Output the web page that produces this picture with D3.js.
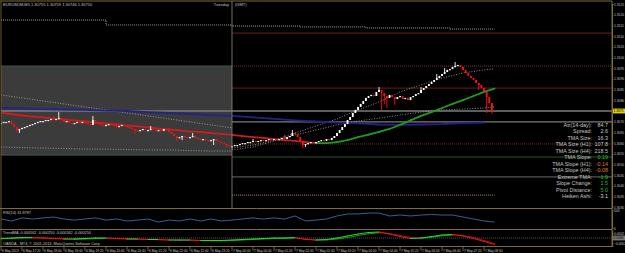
<!DOCTYPE html>
<html>
<head>
<meta charset="utf-8">
<script src="https://cdn.jsdelivr.net/npm/d3@7"></script>
<style>
body { margin: 0; background: #000; }
svg { display: block; font-family: "Liberation Sans", Arial, sans-serif; }
</style>
</head>
<body>
<svg id="chart" width="625" height="253"></svg>
<script>
"use strict";
//---- data (EURUSD M5, 6-7 May 2013) ----
var firstOpen = 1.30689;
var closes = [
	1.30694,1.30699,1.30699,1.30703,1.30689,1.30675,1.30661,1.30666,
	1.30671,1.30675,1.30680,1.30685,1.30689,1.30694,1.30699,1.30703,
	1.30703,1.30708,1.30708,1.30713,1.30708,1.30713,1.30717,1.30708,
	1.30699,1.30703,1.30694,1.30689,1.30694,1.30699,1.30694,1.30699,
	1.30694,1.30689,1.30685,1.30708,1.30699,1.30689,1.30685,1.30680,
	1.30685,1.30689,1.30685,1.30680,1.30675,1.30680,1.30685,1.30680,
	1.30675,1.30671,1.30666,1.30661,1.30657,1.30661,1.30666,1.30661,
	1.30661,1.30666,1.30661,1.30657,1.30661,1.30657,1.30666,1.30661,
	1.30652,1.30643,1.30633,1.30624,1.30628,1.30633,1.30628,1.30624,
	1.30628,1.30633,1.30624,1.30619,1.30614,1.30619,1.30614,1.30610,
	1.30614,1.30619,1.30610,1.30605,1.30600,1.30596,1.30591,1.30586,
	1.30586,1.30591,1.30591,1.30596,1.30600,1.30600,1.30605,1.30605,
	1.30610,1.30605,1.30610,1.30614,1.30610,1.30614,1.30619,1.30614,
	1.30619,1.30614,1.30619,1.30624,1.30619,1.30628,1.30633,1.30647,
	1.30643,1.30628,1.30610,1.30591,1.30596,1.30600,1.30605,1.30600,
	1.30605,1.30610,1.30614,1.30610,1.30619,1.30614,1.30624,1.30633,
	1.30647,1.30661,1.30675,1.30689,1.30708,1.30722,1.30741,1.30755,
	1.30769,1.30783,1.30797,1.30811,1.30820,1.30825,1.30820,1.30839,
	1.30848,1.30834,1.30820,1.30811,1.30825,1.30815,1.30806,1.30815,
	1.30820,1.30806,1.30811,1.30801,1.30815,1.30820,1.30829,1.30834,
	1.30848,1.30857,1.30867,1.30876,1.30886,1.30895,1.30904,1.30914,
	1.30923,1.30932,1.30942,1.30946,1.30956,1.30960,1.30965,1.30956,
	1.30942,1.30928,1.30914,1.30904,1.30895,1.30881,1.30872,1.30857,
	1.30839,1.30815,1.30787,1.30750];
//bars with a visible wick beyond the body
var wickHighBars = [22, 35, 44, 57, 73, 96, 108, 111, 144, 160, 166, 169, 173];
var wickHighs = [1.30745, 1.30727, 1.30689, 1.30680, 1.30647, 1.30619, 1.30638, 1.30661, 1.30862, 1.30862, 1.30923, 1.30951, 1.30979];
var wickLowBars = [6, 7, 51, 67, 69, 81, 86, 115, 116, 145, 146, 147, 150, 182, 185, 187];
var wickLows = [1.30652, 1.30647, 1.30643, 1.30610, 1.30614, 1.30591, 1.30577, 1.30577, 1.30582, 1.30755, 1.30783, 1.30764, 1.30778, 1.30848, 1.30741, 1.30736];

//TMA centre line, one point every 4 bars
var tmaCentre = [
	1.30741,1.30736,1.30729,1.30724,1.30720,1.30715,1.30710,1.30706,
	1.30701,1.30696,1.30692,1.30687,1.30682,1.30678,1.30673,1.30668,
	1.30664,1.30659,1.30654,1.30652,1.30647,1.30643,1.30638,1.30633,
	1.30628,1.30624,1.30619,1.30614,1.30610,1.30605,1.30600,1.30600,
	1.30605,1.30614,1.30628,1.30640,1.30652,1.30666,1.30685,1.30706,
	1.30727,1.30745,1.30764,1.30783,1.30801,1.30820,1.30839,1.30855];
//TMA bands, one point every 8 bars (Monday and Tuesday drawn apart)
var bandBarsLeft = [0, 8, 16, 24, 32, 40, 48, 56, 64, 72, 80, 88];
var upperLeft = [1.30825,1.30811,1.30797,1.30783,1.30769,1.30755,1.30741,1.30727,1.30713,1.30699,1.30685,1.30671];
var lowerLeft = [1.30582,1.30579,1.30577,1.30575,1.30572,1.30572,1.30570,1.30568,1.30568,1.30565,1.30563,1.30563];
var bandBarsRight = [88, 96, 104, 112, 120, 128, 136, 144, 152, 160, 168, 176, 184, 188];
var upperRight = [1.30577,1.30591,1.30614,1.30647,1.30680,1.30713,1.30755,1.30792,1.30839,1.30872,1.30904,1.30928,1.30942,1.30946];
var lowerRight = [1.30568,1.30582,1.30610,1.30638,1.30661,1.30685,1.30703,1.30717,1.30731,1.30745,1.30755,1.30759,1.30764,1.30769];
//slow blue average, one point every 8 bars
var blueBars = [0, 8, 16, 24, 32, 40, 48, 56, 64, 72, 80, 88, 96, 104, 112, 120, 128, 136, 144, 152, 160, 168, 176, 184];
var blueLine = [1.30764,1.30762,1.30759,1.30757,1.30755,1.30752,1.30750,1.30745,1.30741,1.30736,1.30731,1.30727,
	1.30720,1.30713,1.30706,1.30701,1.30696,1.30692,1.30687,1.30685,1.30687,1.30689,1.30694,1.30696];
//dotted step line near the top and at the bottom
var stepBars = [0, 40, 88, 114, 139, 171, 188];
var stepPrices = [1.31175, 1.31152, 1.31147, 1.31143, 1.31138, 1.31133, 1.31133];
var lowStepBars = [88, 188];
var lowStepPrices = [1.30357, 1.30357];
//previous day range box and horizontal levels
var boxBars = [0, 88];
var boxHigh = 1.30960, boxLow = 1.30544;
var levelPrices = [1.31114, 1.30960, 1.30857, 1.30699, 1.30596, 1.30535, 1.30442];

//sub windows, one point every 4 bars
var rsiValues = [50,39,56,50,56,61,50,44, 50,56,44,50,39,44,50,33, 44,39,50,39,50,39,44,50,
	56,50,56,50,67,39,44,50, 67,78,78,83,83,67,72,67, 72,75,72,72,61,50,39,33];
var trendFast = [-0.00002,0,0.00002,0.00002,0,-0.00002,-0.00004,-0.00004,
	-0.00002,0,0,-0.00002,-0.00004,-0.00004,-0.00006,-0.00006,
	-0.00008,-0.00008,-0.00008,-0.0001,-0.0001,-0.0001,-0.00008,-0.00006,
	-0.00004,-0.00002,0,0,0.00002,-0.00006,-0.00008,-0.00006,
	0,0.00008,0.00016,0.00022,0.00024,0.00016,0.00006,-0.00002,
	0,0.00006,0.00012,0.00014,0.00008,-0.00002,-0.00014,-0.00026];
var trendSlow = [-0.000032,-0.00002,0,0.000008,0,-0.000012,-0.000032,-0.000048,
	-0.00004,-0.00002,-0.000012,-0.00002,-0.000032,-0.000048,-0.00006,-0.000072,
	-0.00008,-0.000088,-0.000092,-0.0001,-0.000112,-0.000112,-0.0001,-0.00008,
	-0.00006,-0.00004,-0.00002,-0.000012,0,-0.00004,-0.00008,-0.00008,
	-0.00004,0.00002,0.0001,0.000168,0.000208,0.00018,0.0001,0.00002,
	-0.000012,0.000028,0.000088,0.00012,0.0001,0.00002,-0.0001,-0.00022];

//axes and texts
var priceTicks = [1.3030,1.3035,1.3040,1.3045,1.3050,1.3055,1.3060,1.3065,1.3070,
	1.3080,1.3085,1.3090,1.3095,1.3100,1.3105,1.3110,1.3115,1.3120,1.3125];
var rsiTicks = [100, 0];
var trendTicks = [0.0002, -0.0002];
var timeLabels = ["6 May 2013","6 May 17:20","6 May 18:00","6 May 18:40","6 May 19:20","6 May 20:00",
	"6 May 20:40","6 May 21:20","6 May 22:00","6 May 22:40","6 May 23:20","7 May 00:00",
	"7 May 00:40","7 May 01:20","7 May 02:00","7 May 02:40","7 May 03:20","7 May 04:00",
	"7 May 04:40","7 May 05:20","7 May 06:00","7 May 06:40","7 May 07:20","7 May 08:00"];
var infoLabels = ["Atr(14-day):","Spread:","TMA Size:","TMA Size (H1):","TMA Size (H4):","TMA Slope:",
	"TMA Slope (H1):","TMA Slope (H4):","Extreme TMA:","Slope Change:","Pivot Distance:","Heiken Ashi:"];
var infoValues = ["84.7","2.6","16.3","107.8","218.5","0.19","-0.14","-0.08","-1.9","1.5","5.0","-3.1"];

//---- drawing ----
var gold = '#7f6d35';
var textC = '#c4c4c4';
var svg = d3.select('#chart');
svg.append('rect').attr('width', 625).attr('height', 253).attr('fill', '#000');

var x = d3.scaleLinear().domain([0, 187]).range([1, 491.9]);
var y = d3.scaleLinear().domain([1.3030, 1.3125]).range([207.3, 4]);
var yr = d3.scaleLinear().domain([0, 100]).range([228, 210]);
var yt = d3.scaleLinear().domain([-0.0003, 0.0003]).range([245.5, 230.5]);
var sampleBars = d3.range(0, 189, 4);

svg.append('clipPath').attr('id', 'mainClip').append('rect')
	.attr('x', 1).attr('y', 1.5).attr('width', 611).attr('height', 206.5);
var main = svg.append('g').attr('clip-path', 'url(#mainClip)');

//previous day range box
main.append('rect')
	.attr('x', 0).attr('y', y(boxHigh))
	.attr('width', x(boxBars[1]))
	.attr('height', y(boxLow) - y(boxHigh))
	.attr('fill', '#3b3b3b');
[boxHigh, boxLow].forEach(function(p){
	main.append('line').attr('x1', 0).attr('x2', x(boxBars[1]))
		.attr('y1', y(p)).attr('y2', y(p))
		.style('stroke', '#3e5656').style('stroke-width', 1);
});

//horizontal levels on the right of the day separator
var levelStyle = [
	{c: '#6e1e1e', dash: null}, {c: '#7a3030', dash: '1,1'}, {c: '#6e1e1e', dash: null},
	{c: '#9a9a9a', dash: null}, {c: '#6e2a2a', dash: '1,1'}, {c: '#1e5a1e', dash: null},
	{c: '#6a6a6a', dash: null}];
levelPrices.forEach(function(p, i){
	main.append('line').attr('x1', x(boxBars[1])).attr('x2', 612)
		.attr('y1', y(p)).attr('y2', y(p))
		.style('stroke', levelStyle[i].c).style('stroke-width', 1)
		.style('stroke-dasharray', levelStyle[i].dash);
});
//bid line
main.append('line').attr('x1', 0).attr('x2', 612)
	.attr('y1', y(closes[closes.length - 1])).attr('y2', y(closes[closes.length - 1]))
	.style('stroke', '#7c7c7c').style('stroke-width', 1.6);

//dotted step lines
var stepLine = d3.line().curve(d3.curveStepAfter)
	.x(function(d){return x(d[0]);}).y(function(d){return y(d[1]);});
main.append('path').attr('d', stepLine(d3.zip(stepBars, stepPrices)))
	.style('fill', 'none').style('stroke', '#9a9a9a').style('stroke-dasharray', '1,1');
main.append('path').attr('d', stepLine(d3.zip(lowStepBars, lowStepPrices)))
	.style('fill', 'none').style('stroke', '#a08a50').style('stroke-dasharray', '1,1');

//TMA bands
var line = d3.line().x(function(d){return x(d[0]);}).y(function(d){return y(d[1]);});
[[bandBarsLeft, upperLeft], [bandBarsLeft, lowerLeft], [bandBarsRight, upperRight], [bandBarsRight, lowerRight]]
	.forEach(function(b){
		main.append('path').attr('d', line(d3.zip(b[0], b[1])))
			.style('fill', 'none').style('stroke', '#b0b0b0')
			.style('stroke-width', 0.8).style('stroke-dasharray', '1,1.6');
	});

//blue average
main.append('path').attr('d', line(d3.zip(blueBars, blueLine)))
	.style('fill', 'none').style('stroke', '#22228a').style('stroke-width', 1.8);

//draws a line split in segments, green when rising, red when falling
function drawSlopeLine(g, bars, values, yScale, width, up, down){
	for(var i = 1; i < bars.length; i++){
		g.append('line')
			.attr('x1', x(bars[i - 1])).attr('y1', yScale(values[i - 1]))
			.attr('x2', x(bars[i])).attr('y2', yScale(values[i]))
			.style('stroke', values[i] >= values[i - 1] ? up : down)
			.style('stroke-width', width)
			.style('stroke-linecap', 'round');
	}
}
drawSlopeLine(main, sampleBars, tmaCentre, y, 1.8, '#1f9a1f', '#d01c1c');

//candles
var candles = closes.map(function(c, i){
	var o = i == 0 ? firstOpen : closes[i - 1];
	var hi = wickHighBars.indexOf(i), lo = wickLowBars.indexOf(i);
	return {i: i, o: o, c: c,
		h: hi >= 0 ? wickHighs[hi] : Math.max(o, c),
		l: lo >= 0 ? wickLows[lo] : Math.min(o, c)};
});
var candleG = main.append('g');
candleG.selectAll('line.wick').data(candles).enter().append('line')
	.attr('class', 'wick')
	.attr('x1', function(d){return x(d.i);}).attr('x2', function(d){return x(d.i);})
	.attr('y1', function(d){return y(d.h);}).attr('y2', function(d){return y(d.l);})
	.style('stroke', function(d){return d.c >= d.o ? '#ffffff' : '#ff1010';})
	.style('stroke-width', 0.9);
candleG.selectAll('rect.body').data(candles).enter().append('rect')
	.attr('class', 'body')
	.attr('x', function(d){return x(d.i) - 0.9;})
	.attr('width', 1.8)
	.attr('y', function(d){return y(Math.max(d.o, d.c));})
	.attr('height', function(d){return Math.max(1.2, Math.abs(y(d.o) - y(d.c)));})
	.style('fill', function(d){return d.c >= d.o ? '#ffffff' : '#ff1010';});

//day separator
svg.append('line').attr('x1', x(88)).attr('x2', x(88)).attr('y1', 1).attr('y2', 208)
	.style('stroke', '#8a8a7a').style('stroke-width', 0.8);

//header texts
function label(t, px, py, size, color, anchor){
	return svg.append('text').attr('x', px).attr('y', py)
		.attr('text-anchor', anchor || 'start')
		.style('font-size', size + 'px').style('fill', color).text(t);
}
label('EURUSDM,M5  1.30755 1.30759 1.30746 1.30750', 3, 6, 4, textC);
label('Tuesday', x(88) - 3, 6, 4, textC, 'end');
label('(GMT)', x(88) + 3, 6, 4, textC);

//info table
var infoColors = [textC, textC, textC, textC, textC, '#19c019', '#e07a30', '#e07a30',
	'#19c019', '#19c019', '#19c019', '#d8d8d8'];
infoLabels.forEach(function(t, i){
	label(t, 592, 127 + i * 6.45, 5.4, textC, 'end');
	label(infoValues[i], 608, 127 + i * 6.45, 5.4, infoColors[i], 'end');
});

//sub window lines
var rsiG = svg.append('g');
rsiG.append('path')
	.attr('d', d3.line().x(function(d){return x(d[0]);}).y(function(d){return yr(d[1]);})(d3.zip(sampleBars, rsiValues)))
	.style('fill', 'none').style('stroke', '#3d6aa8').style('stroke-width', 0.9);
label('RSI(14) 31.8787', 3, 213.5, 3.8, textC);

var trendG = svg.append('g');
trendG.append('line').attr('x1', 1).attr('x2', 612).attr('y1', yt(0)).attr('y2', yt(0))
	.style('stroke', '#6a6a6a').style('stroke-dasharray', '1,1').style('stroke-width', 0.8);
drawSlopeLine(trendG, sampleBars, trendSlow, yt, 1, '#0fa00f', '#b01010');
drawSlopeLine(trendG, sampleBars, trendFast, yt, 1, '#2fd82f', '#e81818');
label('TrendMA -0.000562 -0.000250 -0.000562 -0.000250', 3, 234, 3.8, textC);
label('OANDA - MT4, \u00a9 2001-2013, MetaQuotes Software Corp.', 3, 244.5, 3.8, textC);

//frame
[1, 208.5, 229.5, 246.5].forEach(function(yy){
	svg.append('line').attr('x1', 0).attr('x2', 612).attr('y1', yy).attr('y2', yy)
		.style('stroke', gold).style('stroke-width', 1);
});
svg.append('line').attr('x1', 1).attr('x2', 1).attr('y1', 1).attr('y2', 246.5)
	.style('stroke', gold).style('stroke-width', 0.8);

//right price axis
svg.append('g').attr('transform', 'translate(612,0)')
	.call(d3.axisRight(y).tickValues(priceTicks).tickFormat(d3.format('.4f')).tickSize(1.5).tickPadding(0.5));
svg.append('g').attr('transform', 'translate(612,0)')
	.call(d3.axisRight(yr).tickValues(rsiTicks).tickFormat(d3.format('d')).tickSize(1.5).tickPadding(0.5));
svg.append('g').attr('transform', 'translate(612,0)')
	.call(d3.axisRight(yt).tickValues(trendTicks).tickFormat(d3.format('.4f')).tickSize(1.5).tickPadding(0.5));
svg.selectAll('.domain').style('stroke', gold);
svg.selectAll('.tick line').style('stroke', gold);
svg.selectAll('.tick text').style('font-size', '3.3px').style('fill', textC)
	.style('font-family', '"Liberation Sans", Arial, sans-serif');
svg.append('line').attr('x1', 612).attr('x2', 612).attr('y1', 1).attr('y2', 247)
	.style('stroke', gold);

//current price and zero level tags
function tag(py, t, bg, fg){
	svg.append('rect').attr('x', 613).attr('y', py - 2.4).attr('width', 12).attr('height', 4.8).attr('fill', bg);
	label(t, 613.6, py + 1.2, 3.3, fg);
}
tag(y(closes[closes.length - 1]), d3.format('.4f')(closes[closes.length - 1]), '#e2cf00', '#000');
tag(yt(0), '0.0000', '#7a7a7a', '#000');

//time axis
timeLabels.forEach(function(t, k){
	var bx = x(k * 8);
	svg.append('line').attr('x1', bx).attr('x2', bx).attr('y1', 247).attr('y2', 251)
		.style('stroke', '#a0a0a0').style('stroke-width', 0.6);
	label(t, bx + 1, 251.5, 3.2, textC);
});
</script>
